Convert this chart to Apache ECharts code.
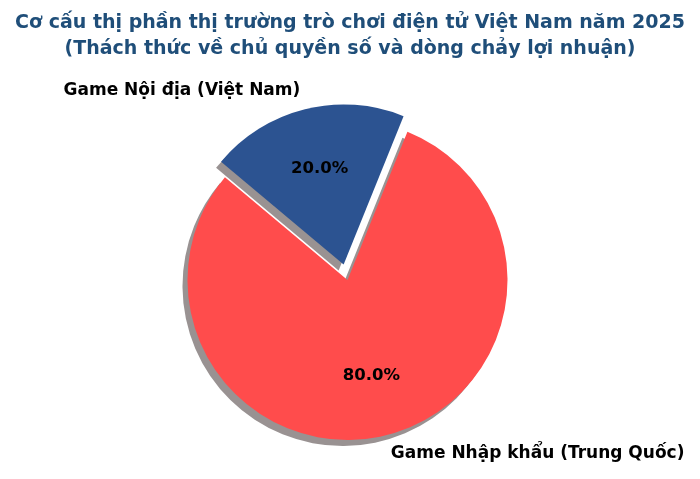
<!DOCTYPE html>
<html>
<head>
<meta charset="utf-8">
<script src="https://cdn.jsdelivr.net/npm/echarts@6/dist/echarts.min.js"></script>
<style>
    html, body { margin: 0; padding: 0; background: #fff; }
    #chart { width: 700px; height: 479px; }
</style>
</head>
<body>
<div id="chart"></div>
<script>
// du lieu thi phan (%)
var categories = ['Game Nội địa (Việt Nam)', 'Game Nhập khẩu (Trung Quốc)'];
var shares = [20, 80];
var colors = ['#2c5391', '#ff4c4c'];
var exploded = [true, false];

var titleText = 'Cơ cấu thị phần thị trường trò chơi điện tử Việt Nam năm 2025\n(Thách thức về chủ quyền số và dòng chảy lợi nhuận)';

var FONT = '"DejaVu Sans", sans-serif';
var CENTER = [347.5, 280];
var R = 160;
var OFFSET = 16;

function buildData(transparent) {
    return categories.map(function (name, i) {
        return {
            name: name,
            value: shares[i],
            selected: exploded[i],
            itemStyle: transparent ? { color: 'rgba(0,0,0,0)', borderWidth: 0, shadowBlur: 0, shadowColor: 'rgba(0,0,0,0)' } : { color: colors[i] }
        };
    });
}

var base = {
    type: 'pie',
    center: CENTER,
    startAngle: 140,
    clockwise: true,
    selectedMode: 'single',
    selectedOffset: OFFSET,
    silent: true,
    animation: false,
    avoidLabelOverlap: false,
    emphasis: { disabled: true },
    labelLine: { show: false }
};

var myChart = echarts.init(document.getElementById('chart'));
myChart.setOption({
    backgroundColor: '#fff',
    animation: false,
    title: {
        text: titleText,
        left: 'center',
        top: 5,
        textStyle: {
            fontFamily: FONT,
            fontSize: 19,
            fontWeight: 'bold',
            color: '#1f4e79',
            lineHeight: 26,
            align: 'center'
        }
    },
    series: [
        Object.assign({}, base, {
            name: 'slices',
            radius: R,
            data: buildData(false),
            itemStyle: {
                borderWidth: 0,
                shadowBlur: 0,
                shadowOffsetX: -5,
                shadowOffsetY: 6,
                shadowColor: 'rgba(110,100,100,0.7)'
            },
            label: { show: false }
        }),
        Object.assign({}, base, {
            name: 'pct',
            radius: [32, R],
            data: buildData(true),
            z: 3,
            label: {
                show: true,
                position: 'inside',
                formatter: function (p) { return p.value.toFixed(1) + '%'; },
                fontFamily: FONT,
                fontSize: 16.5,
                fontWeight: 'bold',
                color: '#000'
            }
        }),
        Object.assign({}, base, {
            name: 'names',
            radius: [R, R * 1.2],
            data: buildData(true),
            z: 3,
            label: {
                show: true,
                position: 'inside',
                formatter: '{b}',
                fontFamily: FONT,
                fontSize: 17,
                fontWeight: 'bold',
                color: '#000'
            },
            labelLayout: function (p) {
                return { align: p.dataIndex === 0 ? 'right' : 'left' };
            }
        })
    ]
});
</script>
</body>
</html>
